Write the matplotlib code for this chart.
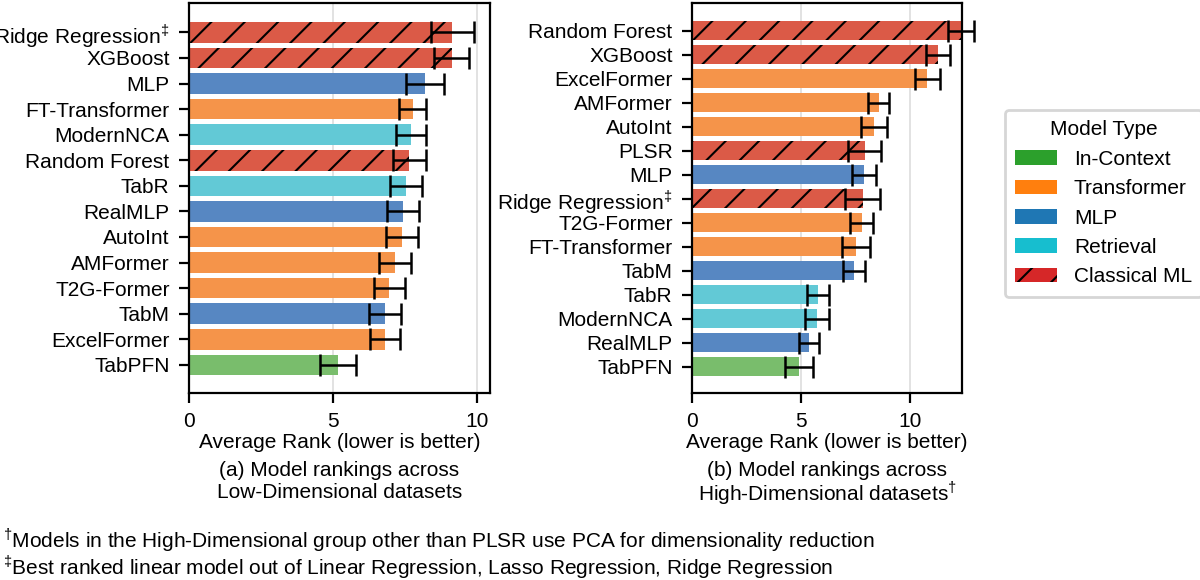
import matplotlib
matplotlib.use("Agg")
import matplotlib.pyplot as plt
from matplotlib.patches import Patch

plt.rcParams['font.family'] = ['Liberation Sans', 'DejaVu Sans']
plt.rcParams['mathtext.fontset'] = 'custom'
plt.rcParams['mathtext.rm'] = 'Liberation Sans'
plt.rcParams['hatch.linewidth'] = 0.75

RIDGE = r'Ridge Regression$^{\ddag}$'

# low-dimensional panel (top to bottom)
low_models = [RIDGE, 'XGBoost', 'MLP', 'FT-Transformer', 'ModernNCA', 'Random Forest',
              'TabR', 'RealMLP', 'AutoInt', 'AMFormer', 'T2G-Former', 'TabM',
              'ExcelFormer', 'TabPFN']
low_rank = [9.14, 9.12, 8.2, 7.77, 7.72, 7.65, 7.54, 7.43, 7.39, 7.15, 6.95, 6.8, 6.79, 5.18]
low_err = [0.75, 0.6, 0.65, 0.47, 0.52, 0.58, 0.55, 0.55, 0.56, 0.55, 0.54, 0.56, 0.52, 0.62]

# high-dimensional panel (top to bottom)
high_models = ['Random Forest', 'XGBoost', 'ExcelFormer', 'AMFormer', 'AutoInt', 'PLSR',
               'MLP', RIDGE, 'T2G-Former', 'FT-Transformer', 'TabM', 'TabR',
               'ModernNCA', 'RealMLP', 'TabPFN']
high_rank = [12.37, 11.3, 10.8, 8.57, 8.35, 7.93, 7.9, 7.84, 7.8, 7.53, 7.45, 5.8, 5.74, 5.37, 4.92]
high_err = [0.6, 0.57, 0.58, 0.48, 0.6, 0.76, 0.53, 0.81, 0.53, 0.66, 0.5, 0.5, 0.56, 0.46, 0.63]

model_type = {
    'TabPFN': 'In-Context',
    'FT-Transformer': 'Transformer', 'AutoInt': 'Transformer', 'AMFormer': 'Transformer',
    'T2G-Former': 'Transformer', 'ExcelFormer': 'Transformer',
    'MLP': 'MLP', 'RealMLP': 'MLP', 'TabM': 'MLP',
    'ModernNCA': 'Retrieval', 'TabR': 'Retrieval',
    RIDGE: 'Classical ML', 'XGBoost': 'Classical ML', 'Random Forest': 'Classical ML',
    'PLSR': 'Classical ML',
}
type_names = ['In-Context', 'Transformer', 'MLP', 'Retrieval', 'Classical ML']
# legend uses the plain tab colours, bars are the faded versions
legend_colors = {'In-Context': 'tab:green', 'Transformer': 'tab:orange', 'MLP': 'tab:blue',
                 'Retrieval': 'tab:cyan', 'Classical ML': 'tab:red'}
bar_colors = {'In-Context': '#79bd6c', 'Transformer': '#f5944a', 'MLP': '#5787c2',
              'Retrieval': '#62c9d6', 'Classical ML': '#db5a47'}

fig = plt.figure(figsize=(6, 2.9), dpi=200)
ax1 = fig.add_axes([189 / 1200, 1 - 393 / 580, 301 / 1200, 390 / 580])
ax2 = fig.add_axes([692 / 1200, 1 - 393 / 580, 270 / 1200, 390 / 580])


def draw_panel(ax, models, rank, err, xmax):
    n = len(models)
    ys = list(range(n))
    for y, m, r in zip(ys, models, rank):
        t = model_type[m]
        ax.barh(y, r, height=0.8, color=bar_colors[t], edgecolor='black', linewidth=0,
                hatch='//' if t == 'Classical ML' else None, zorder=2)
    ax.errorbar(rank, ys, xerr=err, fmt='none', ecolor='black', elinewidth=0.9,
                capsize=4, capthick=0.9, zorder=3, clip_on=False)
    ax.set_yticks(ys)
    ax.set_yticklabels(models)
    ax.set_ylim(n - 1 + 1.1, -1.15)
    ax.set_xlim(0, xmax)
    ax.set_xticks([0, 5, 10])
    ax.grid(axis='x', color='#dddddd', linewidth=0.6, zorder=0)
    ax.set_axisbelow(True)
    ax.tick_params(labelsize=7.5, width=0.8, length=3.5)
    ax.set_xlabel('Average Rank (lower is better)', fontsize=7.5, va='center')
    ax.xaxis.set_label_coords(0.5, -(442 - 393) / 390)


draw_panel(ax1, low_models, low_rank, low_err, 10.45)
draw_panel(ax2, high_models, high_rank, high_err, 12.4)

cap_left = ['(a) Model rankings across', 'Low-Dimensional datasets']
cap_right = ['(b) Model rankings across', 'High-Dimensional datasets$^{\\dag}$']
for cx, lines in [(339.5, cap_left), (827, cap_right)]:
    fig.text(cx / 1200, 1 - 470 / 580, lines[0], ha='center', va='center', fontsize=7.5)
    fig.text(cx / 1200, 1 - 493 / 580, lines[1], ha='center', va='center', fontsize=7.5)

fig.text(3 / 1200, 1 - 540 / 580,
         r'$^{\dag}$Models in the High-Dimensional group other than PLSR use PCA for dimensionality reduction',
         ha='left', va='center', fontsize=7.5)
fig.text(3 / 1200, 1 - 567 / 580,
         r'$^{\ddag}$Best ranked linear model out of Linear Regression, Lasso Regression, Ridge Regression',
         ha='left', va='center', fontsize=7.5)

handles = [Patch(facecolor=legend_colors[t], edgecolor='black', linewidth=0,
                 hatch='//' if t == 'Classical ML' else None) for t in type_names]
fig.legend(handles, type_names, title='Model Type', loc='upper left',
           bbox_to_anchor=(1005 / 1200, 1 - 110 / 580), borderaxespad=0,
           fontsize=7.5, title_fontsize=7.5, frameon=True, edgecolor='#cccccc',
           borderpad=0.5)

fig.savefig('out.png', dpi=200)
